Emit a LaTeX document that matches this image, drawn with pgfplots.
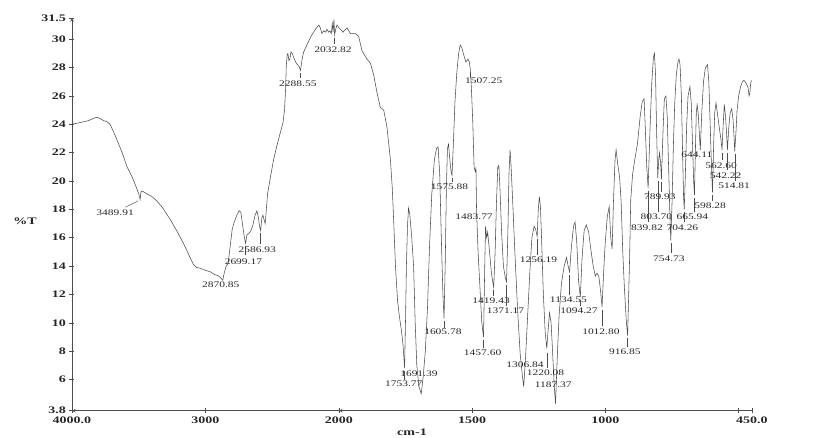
\documentclass[border=0pt]{standalone}
\usepackage{fontspec}
\setmainfont{Liberation Serif}
\newfontfamily\tickfont[FakeStretch=1.4]{Liberation Serif}
\newfontfamily\labfont[FakeStretch=1.35]{Liberation Serif}
\usepackage{pgfplots}
\pgfplotsset{compat=1.18}
\definecolor{ink}{gray}{0.3}

\pgfplotsset{
  irbase/.style={
    scale only axis, height=392.7pt, ymin=3.8, ymax=31.5, x dir=reverse,
    axis line style={-, draw=ink, line width=0.6pt},
    tick style={draw=ink, line width=0.5pt},
    tick align=outside, major tick length=5pt,
    ticklabel style={font=\tickfont\bfseries\fontsize{10}{10}\selectfont, text=black!85},
    clip=false,
  }
}
\newcommand{\lab}[3]{\node[font=\labfont\fontsize{8.5}{8.5}\selectfont, text=black!85, inner sep=0pt] at (axis cs:#1,#2) {#3};}
\newcommand{\lead}[3]{\draw[ink, line width=0.4pt] (axis cs:#1,#2) -- (axis cs:#1,#3);}

\begin{document}
\begin{tikzpicture}
\useasboundingbox (-72pt,-27.3pt) rectangle (756pt,410.7pt);

% ---------- 4000 - 2000 cm-1 (half scale) ----------
\begin{axis}[irbase, width=267pt, at={(0pt,0pt)}, anchor=south west,
  xmin=2000, xmax=4000,
  axis x line=bottom, axis y line=left,
  xtick={4000,3000,2000}, xticklabels={4000.0,3000,2000},
  ytick={3.8,6,8,10,12,14,16,18,20,22,24,26,28,30,31.5},
  yticklabels={3.8,6,8,10,12,14,16,18,20,22,24,26,28,30,31.5},
]
\addplot[draw=ink, line width=0.55pt, mark=none] table {
4000 24.0
3950 24.1
3880 24.25
3830 24.45
3812 24.5
3790 24.4
3760 24.25
3740 24.2
3715 24.0
3690 23.5
3663 22.9
3620 21.9
3588 21.0
3550 20.3
3520 19.6
3500 19.1
3489.91 18.7
3484 19.2
3475 19.3
3440 19.1
3400 18.9
3365 18.6
3320 18.1
3265 17.3
3210 16.4
3165 15.6
3120 14.7
3090 14.1
3065 13.9
3040 13.85
3000 13.7
2965 13.6
2930 13.4
2900 13.3
2880 13.1
2870.85 13.0
2860 13.5
2845 14.0
2830 14.2
2815 15.4
2800 16.6
2785 17.1
2765 17.6
2748 17.9
2735 17.8
2722 16.9
2710 16.1
2699.17 15.6
2690 16.2
2675 16.3
2660 16.5
2645 16.9
2628 17.6
2615 17.9
2603 17.4
2595 16.8
2586.93 16.5
2578 17.4
2570 17.6
2562 17.3
2553 17.0
2545 17.9
2535 19.1
2515 20.2
2490 21.5
2465 22.5
2440 23.4
2420 24.1
2408 25.0
2400 26.5
2395 28.1
2388 28.9
2383 29.0
2375 28.5
2368 28.6
2360 29.1
2350 29.0
2335 28.6
2320 28.3
2300 28.1
2288.55 27.8
2278 28.5
2265 29.1
2245 29.5
2230 29.8
2210 30.2
2190 30.5
2170 30.8
2160 30.9
2150 31.0
2140 30.8
2128 30.4
2115 30.6
2100 30.5
2090 30.7
2078 30.5
2068 30.6
2058 30.4
2050 31.1
2044 30.5
2038 31.4
2032.82 30.3
2025 30.7
2015 31.0
2000 30.8
};
\lab{3677}{17.74}{3489.91}
\draw[ink, line width=0.4pt] (axis cs:3600,18.15) -- (axis cs:3505,18.6);
\lab{2886}{12.7}{2870.85}
\lab{2716}{14.33}{2699.17}
\lead{2699.17}{15.4}{14.75}
\lab{2612}{15.13}{2586.93}
\lead{2586.93}{16.3}{15.55}
\lab{2308}{26.85}{2288.55}
\lead{2288.55}{27.6}{27.25}
\lab{2045}{29.24}{2032.82}
\lead{2032.82}{30.1}{29.65}
\end{axis}

% ---------- 2000 - 450 cm-1 ----------
\begin{axis}[irbase, width=413pt, at={(267pt,0pt)}, anchor=south west,
  xmin=450, xmax=2000,
  axis x line=bottom, axis y line=none,
  xtick={1500,1000,500,450}, xticklabels={1500,1000,,450.0},
]
\addplot[draw=ink, line width=0.55pt, mark=none] table {
2000 30.8
1985 30.5
1970 30.8
1957 30.4
1939 30.4
1926 30.2
1914 29.2
1895 28.6
1882 28.3
1870 27.5
1857 26.2
1845 25.2
1832 25.0
1820 23.8
1807 21.5
1800 19.5
1795 17.3
1788 14.0
1780 11.5
1773 10.4
1766 9.5
1760 8.5
1753.77 6.8
1750 10.5
1747 14.0
1743 16.8
1739 18.1
1734 17.6
1727 16.0
1720 14.0
1714 10.0
1708 7.0
1700 5.5
1691.39 5.0
1684 6.2
1676 8.0
1668 11.0
1660 15.5
1652 19.0
1642 21.5
1634 22.3
1628 22.4
1622 20.5
1616 16.0
1610 12.0
1605.78 10.3
1601 14.5
1597 19.5
1593 22.3
1589 22.6
1584 21.5
1579 20.6
1575.88 20.4
1571 22.5
1565 25.5
1558 27.6
1551 29.0
1545 29.6
1539 29.4
1532 28.9
1524 28.4
1516 28.6
1511 28.4
1507.25 27.9
1503 26.5
1498 24.2
1493 21.0
1489 20.7
1486 20.9
1483.77 18.0
1478 15.0
1471 12.5
1464 10.0
1457.60 9.0
1453 14.0
1450 16.8
1446 16.0
1442 16.4
1435 15.0
1428 13.5
1419.43 12.5
1414 15.0
1409 18.5
1404 21.0
1400 21.1
1396 19.5
1390 16.5
1383 14.0
1376 13.2
1371.17 12.9
1366 16.5
1362 20.5
1358 22.2
1354 21.0
1348 18.5
1340 15.0
1330 11.0
1320 7.8
1312 6.3
1306.84 5.5
1300 7.5
1292 10.5
1284 13.5
1276 16.0
1268 16.8
1262 16.6
1256.19 16.1
1252 18.0
1248 18.9
1244 18.2
1239 15.5
1233 12.0
1226 9.3
1220.08 8.2
1215 9.5
1210 10.7
1204 10.0
1198 7.8
1192 5.5
1187.37 4.3
1181 7.5
1174 10.5
1165 12.8
1155 14.0
1146 14.6
1140 14.0
1134.55 13.6
1128 15.3
1120 16.8
1114 17.1
1108 15.8
1101 13.0
1094.27 11.8
1088 14.5
1080 16.5
1072 16.9
1063 16.4
1055 15.2
1046 14.0
1038 13.3
1032 13.5
1025 13.3
1018 12.2
1012.80 11.1
1007 13.5
1001 15.6
993 17.5
986 18.2
980 16.0
975 15.2
970 18.5
964 21.5
960 22.2
954 21.2
947 20.3
941 18.5
935 15.0
929 12.5
922 10.2
916.85 9.1
910 14.0
905 18.7
898 20.5
890 21.5
880 22.6
870 24.5
862 25.6
855 25.8
850 23.5
845 21.0
839.82 19.5
833 23.5
826 27.0
820 28.7
816 29.0
812 27.5
808 23.5
803.70 20.2
800 21.5
797 22.0
793 21.3
789.93 20.1
784 23.5
779 25.8
773 26.0
768 24.5
763 21.0
758 17.5
754.73 15.8
750 18.5
745 22.5
740 25.5
734 27.5
728 28.4
724 28.6
720 28.2
715 26.0
711 22.5
707 19.0
704.26 18.0
700 20.5
695 24.0
690 26.0
683 26.65
678 25.5
673 22.5
669 20.0
665.94 19.0
662 22.5
659 24.8
656 25.4
652 24.8
648 23.5
644.11 22.2
638 25.0
632 27.0
625 28.0
617 28.2
612 27.0
607 24.0
602 21.0
598.28 19.2
594 22.5
590 24.8
585 25.5
580 24.8
573 23.8
567 23.0
562.60 22.2
558 24.0
554 25.4
549 24.5
545 23.2
542.22 22.2
537 23.8
532 24.8
526 25.1
521 24.3
517 23.0
514.81 22.1
510 23.5
506 25.0
500 26.0
493 26.65
486 27.0
480 27.1
472 26.9
465 26.6
461 26.0
458 26.2
455 26.9
452 27.1
};
\lab{1700}{6.38}{1691.39}
\lab{1757}{5.67}{1753.77}
\lead{1753.77}{6.6}{6.0}
\lab{1610}{9.34}{1605.78}
\lead{1605.78}{10.1}{9.65}
\lab{1585}{19.6}{1575.88}
\lead{1575.88}{20.2}{19.9}
\lab{1457}{27.06}{1507.25}
\lead{1507.25}{27.7}{27.3}
\lab{1493}{17.46}{1483.77}
\lab{1461}{7.9}{1457.60}
\lead{1457.60}{8.8}{8.25}
\lab{1429}{11.55}{1419.43}
\lead{1419.43}{12.3}{11.9}
\lab{1375}{10.85}{1371.17}
\lead{1371.17}{12.7}{11.2}
\lab{1302}{7.06}{1306.84}
\lab{1251}{14.47}{1256.19}
\lead{1256.19}{15.9}{14.8}
\lab{1225}{6.47}{1220.08}
\lead{1220.08}{7.9}{6.8}
\lab{1196}{5.65}{1187.37}
\lab{1139}{11.6}{1134.55}
\lead{1134.55}{13.4}{11.95}
\lab{1099}{10.85}{1094.27}
\lead{1094.27}{11.6}{11.2}
\lab{1017}{9.4}{1012.80}
\lead{1012.80}{10.9}{9.75}
\lab{927}{7.95}{916.85}
\lead{916.85}{8.9}{8.3}
\lab{844}{16.73}{839.82}
\lead{839.82}{19.3}{17.1}
\lab{809}{17.48}{803.70}
\lead{803.70}{20.0}{17.85}
\lab{796}{18.9}{789.93}
\lead{789.93}{19.9}{19.25}
\lab{762}{14.55}{754.73}
\lead{754.73}{15.6}{14.9}
\lab{711}{16.73}{704.26}
\lead{704.26}{17.8}{17.1}
\lab{674}{17.48}{665.94}
\lead{665.94}{18.8}{17.85}
\lab{657}{21.83}{644.11}
\lab{607}{18.24}{598.28}
\lead{598.28}{19.0}{18.6}
\lab{566}{21.1}{562.60}
\lead{562.60}{22.0}{21.45}
\lab{549}{20.4}{542.22}
\lead{542.22}{22.0}{20.75}
\lab{517}{19.67}{514.81}
\lead{514.81}{21.9}{20.0}
\end{axis}

\node[font=\tickfont\bfseries\fontsize{10}{10}\selectfont, text=black!85] at (-47pt,189.7pt) {\%T};
\node[font=\tickfont\bfseries\fontsize{10}{10}\selectfont, text=black!85] at (340pt,-21.3pt) {cm-1};
\end{tikzpicture}
\end{document}
